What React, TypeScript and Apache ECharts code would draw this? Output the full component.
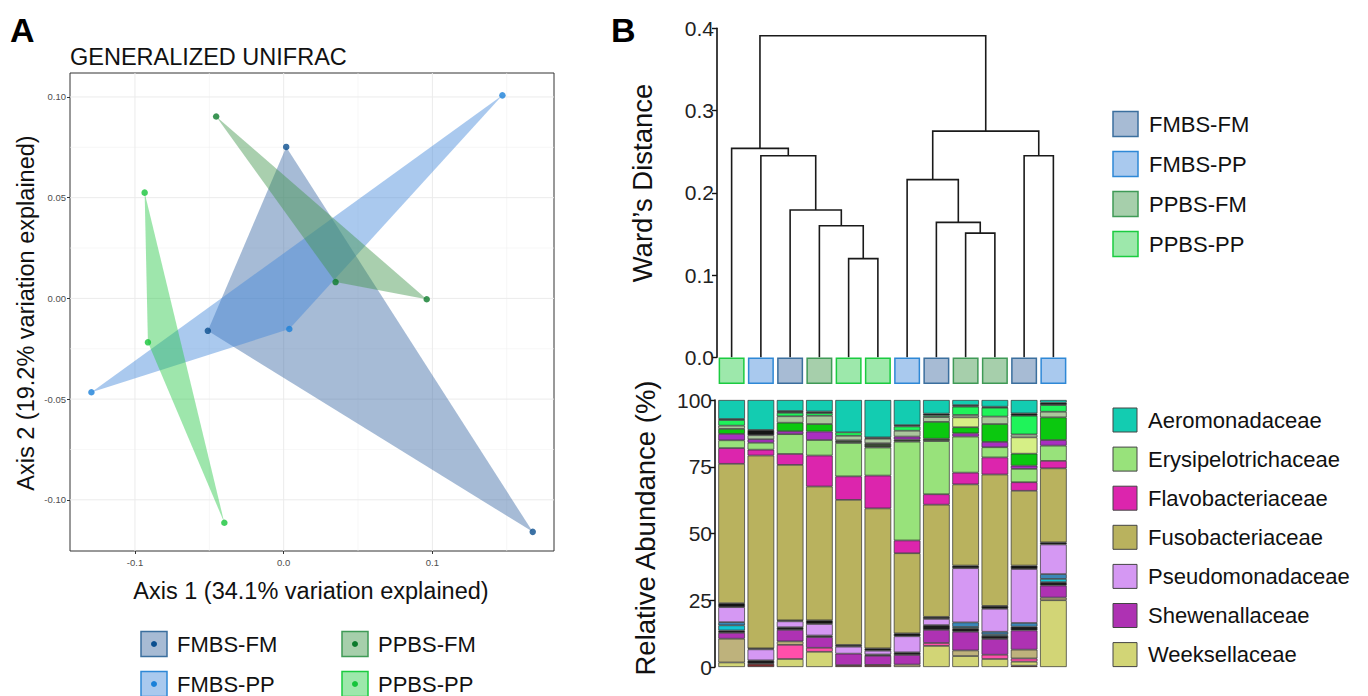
import React, { useEffect, useRef } from "react";
import * as echarts from "echarts";

const FONT = "'Liberation Sans', Arial, Helvetica, sans-serif";

// ---------- Panel A data ----------
const groups = ["FMBS-FM", "FMBS-PP", "PPBS-FM", "PPBS-PP"];
const hullColors = ["#3968a4", "#4287d9", "#40944b", "#29c747"];
const pointColors = ["#0b4f8f", "#1a80d8", "#0b7a2b", "#16c43a"];
const boxFill = ["#a7bbd4", "#a9c9ee", "#a6cfab", "#9de8ab"];
const boxStroke = ["#3b6f9e", "#2e88d6", "#3f9a56", "#1bcb40"];

const fmbsFmPts = [[0.0017, 0.0752], [-0.051, -0.0161], [0.1675, -0.1159]];
const fmbsPpPts = [[-0.1293, -0.0466], [0.1471, 0.1008], [0.0038, -0.0152]];
const ppbsFmPts = [[-0.0454, 0.0903], [0.0349, 0.0081], [0.0962, -0.0004]];
const ppbsPpPts = [[-0.0935, 0.0525], [-0.0913, -0.0218], [-0.0399, -0.1114]];
const groupPts = [fmbsFmPts, fmbsPpPts, ppbsFmPts, ppbsPpPts];

const axis1Ticks = [-0.1, 0, 0.1];
const axis2Ticks = [-0.1, -0.05, 0, 0.05, 0.1];
const axis1Minor = [-0.05, 0.05, 0.15];
const axis2Minor = [-0.075, -0.025, 0.025, 0.075];

// ---------- Panel B dendrogram ----------
const leafGroups = [3, 1, 0, 2, 3, 3, 1, 0, 2, 2, 0, 1];
const mergeA = ["L4", "L3", "L2", "L1", "L0", "L8", "L7", "L6", "L10", "M7", "M4"];
const mergeB = ["L5", "M0", "M1", "M2", "M3", "L9", "M5", "M6", "L11", "M8", "M9"];
const mergeH = [0.12, 0.16, 0.179, 0.245, 0.254, 0.151, 0.164, 0.216, 0.245, 0.275, 0.391];
const wardTicks = [0, 0.1, 0.2, 0.3, 0.4];

// ---------- Panel B relative abundance (bottom to top) ----------
const samples = ["1", "2", "3", "4", "5", "6", "7", "8", "9", "10", "11", "12"];
const maroon = [0, 1.2, 0, 0, 0.7, 0.8, 0, 0, 0, 0, 0.5, 0];
const weeks = [1.7, 0, 3.0, 5.7, 0, 0, 0, 7.9, 4.1, 3.0, 1.5, 25.0];
const hotPink = [0, 0, 5.3, 1.5, 0, 0, 0, 1.1, 0, 1.6, 1.2, 0];
const tan = [8.9, 0, 1.3, 0, 0, 0, 0.9, 0, 2.1, 0, 3.3, 1.0];
const shewen = [2.2, 0, 4.3, 4.0, 4.3, 3.4, 3.6, 4.9, 7.0, 5.9, 7.2, 4.5];
const blackA = [0.9, 1.3, 1.0, 0.6, 0, 0.5, 1.0, 1.8, 1.3, 1.2, 1.4, 1.3];
const cyan = [1.9, 0, 0, 0, 0, 0, 0, 0, 0.5, 0.5, 0, 1.2];
const blue = [1.2, 0, 0, 0, 0, 0, 0, 0, 1.7, 1.0, 1.4, 1.8];
const pseudo = [5.6, 4.1, 2.2, 4.3, 2.6, 1.4, 6.0, 2.3, 20.3, 8.6, 20.2, 11.1];
const blackB = [1.5, 0.4, 0.4, 1.4, 0.7, 0.9, 1.1, 0.8, 1.0, 1.1, 1.3, 0.8];
const fuso = [52.2, 72.2, 58.2, 50.1, 54.3, 52.4, 30.0, 42.0, 30.4, 49.2, 28.0, 27.7];
const flavo = [5.9, 2.2, 4.1, 11.6, 8.8, 12.3, 4.8, 3.9, 4.4, 6.4, 3.2, 2.8];
const erys = [2.9, 2.6, 7.4, 5.8, 12.5, 10.5, 37.0, 19.9, 13.5, 3.8, 5.0, 5.7];
const darkD = [0, 0, 0, 0, 1.0, 1.6, 0.8, 0.9, 0, 0, 0, 0];
const purple2 = [2.4, 1.3, 1.1, 3.2, 0, 0, 1.1, 0, 1.2, 2.0, 1.2, 2.1];
const green = [1.9, 0, 3.2, 2.8, 0, 0, 0, 6.3, 2.3, 6.7, 4.5, 8.5];
const paleYG = [0, 0, 0, 0, 0, 0, 0, 0, 3.7, 0, 6.1, 0];
const greyGreen = [1.2, 1.5, 2.4, 3.1, 1.7, 1.7, 2.2, 1.8, 0.9, 2.8, 1.1, 2.1];
const brightGreen = [2.1, 0, 1.3, 1.0, 1.3, 0, 1.6, 0.6, 3.1, 3.3, 7.0, 2.5];
const blackC = [0.4, 2.0, 0.7, 0.6, 0, 0.5, 0.5, 0.7, 0.6, 0.4, 0.9, 0.9];
const aero = [7.1, 11.2, 4.1, 4.3, 12.1, 14.0, 9.4, 5.1, 1.9, 2.5, 5.0, 1.0];
const abundanceTicks = [0, 25, 50, 75, 100];

const stackSeries: [string, number[], string][] = [
  ["Other 1", maroon, "#7b2a2a"],
  ["Weeksellaceae", weeks, "#d2d576"],
  ["Other 2", hotPink, "#ff4fab"],
  ["Other 3", tan, "#beb27c"],
  ["Shewenallaceae", shewen, "#ae32b3"],
  ["Other 4", blackA, "#1c1c1c"],
  ["Other 5", cyan, "#13c4d4"],
  ["Other 6", blue, "#3a87b8"],
  ["Pseudomonadaceae", pseudo, "#d598f3"],
  ["Other 7", blackB, "#141414"],
  ["Fusobacteriaceae", fuso, "#b9b25e"],
  ["Flavobacteriaceae", flavo, "#dc25ad"],
  ["Erysipelotrichaceae", erys, "#98e27b"],
  ["Other 8", darkD, "#3b4a35"],
  ["Other 9", purple2, "#a82fc0"],
  ["Other 10", green, "#0bc80f"],
  ["Other 11", paleYG, "#d6ef86"],
  ["Other 12", greyGreen, "#abc79d"],
  ["Other 13", brightGreen, "#1ff35a"],
  ["Other 14", blackC, "#161616"],
  ["Aeromonadaceae", aero, "#13ccb1"],
];

const familyLegend = [
  "Aeromonadaceae",
  "Erysipelotrichaceae",
  "Flavobacteriaceae",
  "Fusobacteriaceae",
  "Pseudomonadaceae",
  "Shewenallaceae",
  "Weeksellaceae",
];

function nodeInfo(ref: string): [number, number] {
  if (ref[0] === "L") return [Number(ref.slice(1)) + 0.5, 0];
  const m = Number(ref.slice(1));
  const a = nodeInfo(mergeA[m]);
  const b = nodeInfo(mergeB[m]);
  return [(a[0] + b[0]) / 2, mergeH[m]];
}

function buildOption(): any {
  const colorOf = (name: string) => stackSeries.find((s) => s[0] === name)![2];

  const graphic: any[] = [];
  const txt = (text: string, x: number, y: number, size: number, opts: any = {}) => ({
    type: "text",
    x,
    y,
    rotation: opts.rotation || 0,
    style: {
      text,
      fontSize: size,
      fontFamily: FONT,
      fontWeight: opts.bold ? "bold" : "normal",
      fill: opts.fill || "#111",
      textAlign: opts.align || "left",
      textVerticalAlign: "middle",
    },
  });
  graphic.push(txt("A", 10, 30, 34, { bold: true, fill: "#000" }));
  graphic.push(txt("B", 611, 30, 34, { bold: true, fill: "#000" }));
  graphic.push(txt("GENERALIZED UNIFRAC", 70, 57, 23.5));
  graphic.push(txt("Axis 1 (34.1% variation explained)", 311, 591, 23.5, { align: "center" }));
  graphic.push(txt("Axis 2 (19.2% variation explained)", 26, 313, 23.5, { align: "center", rotation: Math.PI / 2 }));
  graphic.push(txt("Ward\u2019s Distance", 642, 183, 27.5, { align: "center", rotation: Math.PI / 2 }));
  graphic.push(txt("Relative Abundance (%)", 645, 528, 27.5, { align: "center", rotation: Math.PI / 2 }));

  // Legend A
  const legA = [
    [0, 141, 644],
    [2, 342, 644],
    [1, 141, 684],
    [3, 342, 684],
  ];
  legA.forEach(([g, x, y]) => {
    graphic.push({
      type: "rect",
      shape: { x, y: y - 12.5, width: 26, height: 25 },
      style: { fill: boxFill[g], stroke: boxStroke[g], lineWidth: 1.5 },
    });
    graphic.push({
      type: "circle",
      shape: { cx: x + 13, cy: y, r: 3 },
      style: { fill: pointColors[g] },
    });
    graphic.push(txt(groups[g], x + 36, y, 22));
  });

  // Legend B groups
  groups.forEach((g, i) => {
    const y = 124 + i * 40;
    graphic.push({
      type: "rect",
      shape: { x: 1113, y: y - 12.5, width: 25, height: 25 },
      style: { fill: boxFill[i], stroke: boxStroke[i], lineWidth: 1.5 },
    });
    graphic.push(txt(g, 1149, y, 22));
  });

  // Legend B families
  familyLegend.forEach((f, i) => {
    const y = 420 + i * 39.1;
    graphic.push({
      type: "rect",
      shape: { x: 1113, y: y - 12, width: 24, height: 24 },
      style: { fill: colorOf(f), stroke: "#444", lineWidth: 1 },
    });
    graphic.push(txt(f, 1148, y, 22));
  });

  const series: any[] = [];

  // grid lines for panel A
  series.push({
    type: "custom",
    xAxisIndex: 0,
    yAxisIndex: 0,
    z: 0,
    silent: true,
    data: [[0, 0]],
    renderItem: (params: any, api: any) => {
      const cs = params.coordSys;
      const children: any[] = [];
      const vline = (v: number, w: number, c: string) => {
        const p = api.coord([v, 0]);
        if (p[0] <= cs.x || p[0] >= cs.x + cs.width) return;
        children.push({
          type: "line",
          shape: { x1: p[0], y1: cs.y, x2: p[0], y2: cs.y + cs.height },
          style: { stroke: c, lineWidth: w },
        });
      };
      const hline = (v: number, w: number, c: string) => {
        const p = api.coord([0, v]);
        if (p[1] <= cs.y || p[1] >= cs.y + cs.height) return;
        children.push({
          type: "line",
          shape: { x1: cs.x, y1: p[1], x2: cs.x + cs.width, y2: p[1] },
          style: { stroke: c, lineWidth: w },
        });
      };
      axis1Minor.forEach((v) => vline(v, 0.6, "#f2f2f2"));
      axis2Minor.forEach((v) => hline(v, 0.6, "#f2f2f2"));
      axis1Ticks.forEach((v) => vline(v, 1, "#ebebeb"));
      axis2Ticks.forEach((v) => hline(v, 1, "#ebebeb"));
      return { type: "group", children };
    },
  });

  // hulls
  series.push({
    type: "custom",
    xAxisIndex: 0,
    yAxisIndex: 0,
    z: 1,
    silent: true,
    data: groupPts.map((pts, i) => [pts[0][0], pts[0][1], i]),
    renderItem: (params: any, api: any) => {
      const gi = api.value(2);
      const points = groupPts[gi].map((p) => api.coord(p));
      return {
        type: "polygon",
        shape: { points },
        style: { fill: hullColors[gi], opacity: 0.45, stroke: "none" },
      };
    },
  });

  groups.forEach((g, i) => {
    series.push({
      type: "scatter",
      name: g,
      xAxisIndex: 0,
      yAxisIndex: 0,
      z: 3,
      symbolSize: 6.5,
      itemStyle: { color: pointColors[i] },
      data: groupPts[i],
    });
  });

  // dendrogram
  series.push({
    type: "custom",
    xAxisIndex: 1,
    yAxisIndex: 1,
    silent: true,
    data: mergeH.map((h, i) => [nodeInfo("M" + i)[0], h, i]),
    renderItem: (params: any, api: any) => {
      const m = api.value(2);
      const a = nodeInfo(mergeA[m]);
      const b = nodeInfo(mergeB[m]);
      const h = mergeH[m];
      const pts = [
        api.coord([a[0], a[1]]),
        api.coord([a[0], h]),
        api.coord([b[0], h]),
        api.coord([b[0], b[1]]),
      ];
      return {
        type: "polyline",
        shape: { points: pts },
        style: { stroke: "#1a1a1a", lineWidth: 1.6, fill: "none" },
      };
    },
  });

  // leaf boxes
  series.push({
    type: "bar",
    xAxisIndex: 2,
    yAxisIndex: 2,
    barWidth: 26,
    silent: true,
    data: leafGroups.map((g) => ({
      value: 1,
      itemStyle: { color: boxFill[g], borderColor: boxStroke[g], borderWidth: 1.5 },
    })),
  });

  // stacked abundance bars
  stackSeries.forEach(([name, vals, color]) => {
    series.push({
      type: "bar",
      name,
      stack: "abundance",
      xAxisIndex: 3,
      yAxisIndex: 3,
      barCategoryGap: "9%",
      silent: true,
      itemStyle: { color, borderColor: "#2f2f2f", borderWidth: 0.7 },
      data: vals.map((v) => (v > 0 ? v : null)),
    });
  });

  const hidden = { show: false };

  return {
    animation: false,
    backgroundColor: "#ffffff",
    textStyle: { fontFamily: FONT },
    graphic,
    grid: [
      { left: 70, top: 73, width: 484, height: 478, show: true, borderColor: "#333", borderWidth: 1, backgroundColor: "#fff", z: 0 },
      { left: 717, top: 28.3, width: 351, height: 329 },
      { left: 717, top: 357.5, width: 351, height: 26.5 },
      { left: 717, top: 400, width: 351, height: 267 },
    ],
    xAxis: [
      {
        type: "value",
        gridIndex: 0,
        min: -0.1437,
        max: 0.1818,
        axisLine: { show: false, onZero: false },
        splitLine: hidden,
        axisTick: { show: true, length: 3, lineStyle: { color: "#333" }, customValues: axis1Ticks },
        axisLabel: {
          customValues: axis1Ticks,
          fontSize: 9.5,
          color: "#4d4d4d",
          margin: 6,
          fontFamily: FONT,
          formatter: (v: number) => v.toFixed(1),
        },
      },
      { type: "value", gridIndex: 1, min: 0, max: 12, show: false },
      { type: "category", gridIndex: 2, data: samples, show: false },
      { type: "category", gridIndex: 3, data: samples, show: false },
    ],
    yAxis: [
      {
        type: "value",
        gridIndex: 0,
        min: -0.1254,
        max: 0.1119,
        axisLine: { show: false, onZero: false },
        splitLine: hidden,
        axisTick: { show: true, length: 3, lineStyle: { color: "#333" }, customValues: axis2Ticks },
        axisLabel: {
          customValues: axis2Ticks,
          fontSize: 9.5,
          color: "#4d4d4d",
          margin: 4,
          fontFamily: FONT,
          formatter: (v: number) => v.toFixed(2),
        },
      },
      {
        type: "value",
        gridIndex: 1,
        min: wardTicks[0],
        max: wardTicks[wardTicks.length - 1],
        interval: 0.1,
        axisLine: { show: true, lineStyle: { color: "#111", width: 1.6 } },
        axisTick: { show: true, length: 5, lineStyle: { color: "#111", width: 1.4 } },
        splitLine: hidden,
        axisLabel: { fontSize: 21, color: "#222", margin: 3, fontFamily: FONT, formatter: (v: number) => v.toFixed(1) },
      },
      { type: "value", gridIndex: 2, min: 0, max: 1, show: false },
      {
        type: "value",
        gridIndex: 3,
        min: abundanceTicks[0],
        max: abundanceTicks[abundanceTicks.length - 1],
        interval: 25,
        offset: 2,
        axisLine: { show: true, lineStyle: { color: "#111", width: 1.6 } },
        axisTick: { show: true, length: 5, lineStyle: { color: "#111", width: 1.4 } },
        splitLine: hidden,
        axisLabel: { fontSize: 21, color: "#222", margin: 3, fontFamily: FONT },
      },
    ],
    series,
  };
}

export default function App() {
  const ref = useRef<HTMLDivElement>(null);
  useEffect(() => {
    if (!ref.current) return;
    const chart = echarts.init(ref.current, null, { renderer: "svg" });
    chart.setOption(buildOption());
    return () => chart.dispose();
  }, []);
  return (
    <div
      ref={ref}
      style={{ position: "fixed", left: 0, top: 0, width: 1368, height: 696, background: "#fff" }}
    />
  );
}
